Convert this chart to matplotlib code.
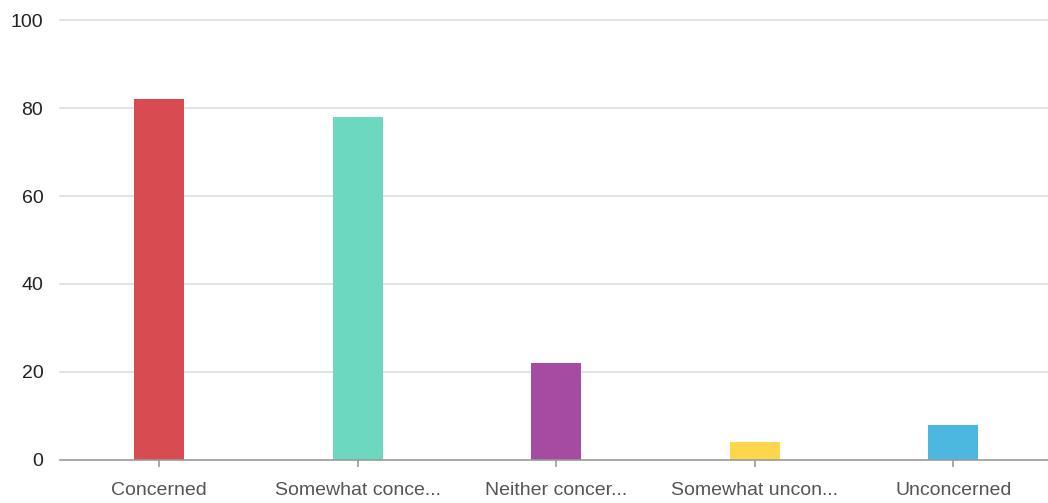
import matplotlib
matplotlib.use("Agg")
import matplotlib.pyplot as plt

categories = ["Concerned", "Somewhat conce...", "Neither concer...", "Somewhat uncon...", "Unconcerned"]
values = [82, 78, 22, 4, 8]
colors = ["#d84b50", "#6dd8c0", "#a64ba2", "#fed64c", "#4cb8e0"]
yticks = [0, 20, 40, 60, 80, 100]

plt.rcParams["font.family"] = ["Liberation Sans", "DejaVu Sans"]

fig = plt.figure(figsize=(10.48, 5.03), dpi=100)
ax = fig.add_axes([60 / 1048, 1 - 460 / 503, 992.5 / 1048, 440 / 503])

x = list(range(len(categories)))
ax.bar(x, values, width=0.25, color=colors, zorder=3)

ax.set_xlim(-0.5, len(categories) - 0.5)
ax.set_ylim(0, 100)
ax.set_yticks(yticks)
ax.set_xticks(x)
ax.set_xticklabels(categories)

for y in yticks[1:]:
    ax.axhline(y, color="#dddddd", linewidth=1.2, zorder=1, clip_on=False)
ax.axhline(0, color="#9a9a9a", linewidth=1.2, zorder=4, clip_on=False)

for s in ax.spines.values():
    s.set_visible(False)

ax.tick_params(axis="y", length=0, pad=12, labelsize=14, labelcolor="#222222")
ax.tick_params(axis="x", length=5, width=1.2, color="#9a9a9a", pad=11,
               labelsize=14, labelcolor="#555555")

fig.savefig("out.png", dpi=100, facecolor="white")
